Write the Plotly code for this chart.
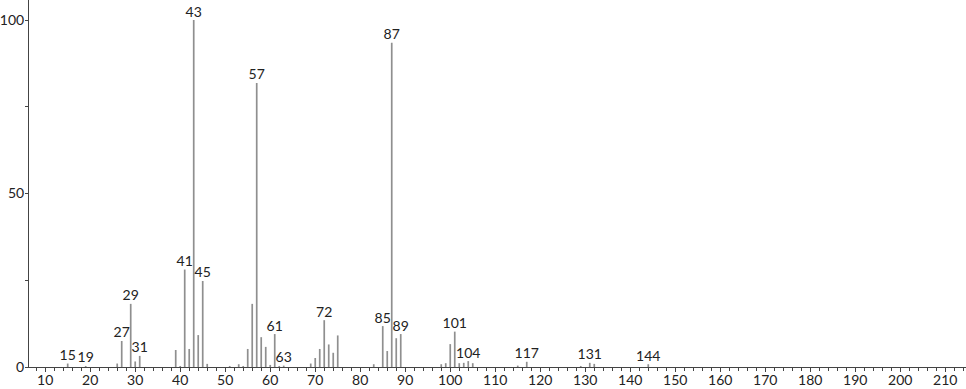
import plotly.graph_objects as go

# m/z values and relative intensities (%)
mz = [15, 19, 26, 27, 29, 30, 31, 39, 40, 41, 42, 43, 44, 45, 46, 51, 53, 54, 55, 56, 57, 58, 59,
      60, 61, 62, 63, 69, 70, 71, 72, 73, 74, 75, 83, 85, 86, 87, 88, 89, 98, 99, 100, 101, 102,
      103, 104, 105, 115, 117, 129, 131, 132, 144]
intensity = [1.0, 0.3, 1.0, 7.5, 18.2, 1.6, 3.2, 4.9, 0.3, 28.1, 5.2, 100.0, 9.2, 24.8, 0.9, 0.3, 0.8, 0.3, 5.2, 18.2, 81.9, 8.6, 5.8,
             0.6, 9.5, 0.3, 0.4, 1.0, 2.6, 5.2, 13.5, 6.5, 4.1, 9.1, 0.8, 11.8, 4.6, 93.5, 8.3, 9.5, 0.8, 1.1, 6.6, 10.2, 1.1,
             1.2, 1.7, 1.1, 0.4, 1.5, 0.3, 1.2, 0.9, 0.8]
labelled = [15, 19, 27, 29, 31, 41, 43, 45, 57, 61, 63, 72, 85, 87, 89, 101, 104, 117, 131, 144]
x_ticks = list(range(10, 211, 10))
y_ticks = [0, 50, 100]

FONT = "Lato, 'DejaVu Sans', sans-serif"

# stick segments
xs, ys = [], []
for m, v in zip(mz, intensity):
    xs += [m, m, None]
    ys += [0, v, None]

lab_x = [m for m in labelled]
lab_y = [intensity[mz.index(m)] for m in labelled]
lab_t = [str(m) for m in labelled]

fig = go.Figure()
fig.add_trace(go.Scatter(x=xs, y=ys, mode="lines",
                         line=dict(color="#8f8f8f", width=1.7),
                         hoverinfo="skip", showlegend=False))
fig.add_trace(go.Scatter(x=lab_x, y=lab_y, mode="text", text=lab_t,
                         textposition="top center",
                         textfont=dict(family=FONT, size=14, color="#222222"),
                         showlegend=False, hoverinfo="skip"))

fig.update_layout(
    width=966, height=389,
    margin=dict(l=29, r=0, t=0, b=22, pad=0),
    paper_bgcolor="white", plot_bgcolor="white",
    font=dict(family=FONT, size=14, color="#222222"),
    xaxis=dict(range=[6.4, 214.6], tickmode="array", tickvals=x_ticks, automargin=False,
               ticks="outside", ticklen=4, tickwidth=1, tickcolor="#444",
               showline=True, linecolor="#444", linewidth=1,
               showgrid=False, zeroline=False,
               minor=dict(dtick=2, tick0=0, ticks="outside", ticklen=3, tickcolor="#444", showgrid=False),
               tickfont=dict(family=FONT, size=14, color="#222"), ticklabelstandoff=-4),
    yaxis=dict(range=[0, 105.8], tickmode="array", tickvals=y_ticks, automargin=False,
               ticks="outside", ticklen=3, tickwidth=1, tickcolor="#444",
               showline=True, linecolor="#444", linewidth=1,
               showgrid=False, zeroline=False,
               minor=dict(tickvals=[25, 75], ticks="outside", ticklen=3, tickcolor="#444", showgrid=False),
               tickfont=dict(family=FONT, size=14, color="#222"), ticklabelstandoff=-2),
)

fig.write_html("out.html")
